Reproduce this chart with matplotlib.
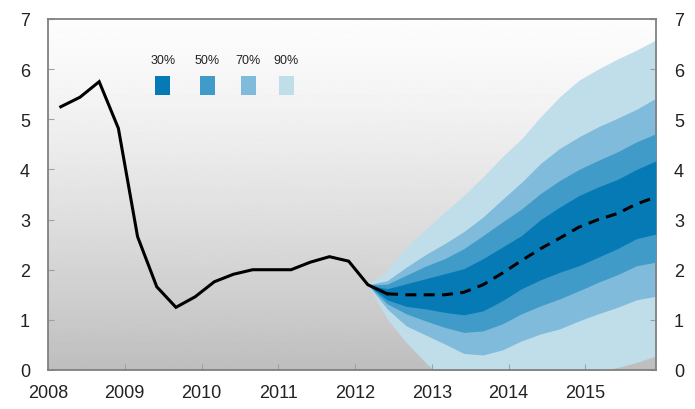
import numpy as np
import matplotlib
matplotlib.use('Agg')
import matplotlib.pyplot as plt
from matplotlib.patches import Rectangle

plt.rcParams['font.family'] = ['Liberation Sans', 'DejaVu Sans']

# 历史数据（季度）
hist_q = ["2008Q1", "2008Q2", "2008Q3", "2008Q4", "2009Q1", "2009Q2", "2009Q3", "2009Q4",
          "2010Q1", "2010Q2", "2010Q3", "2010Q4", "2011Q1", "2011Q2", "2011Q3", "2011Q4",
          "2012Q1", "2012Q2"]
hist_val = [5.25, 5.44, 5.75, 4.82, 2.66, 1.66, 1.25, 1.46,
            1.76, 1.91, 2.00, 2.00, 2.00, 2.15, 2.26, 2.17,
            1.70, 1.52]

# 预测区间（从 2012Q1 开始）
fan_q = ["2012Q1", "2012Q2", "2012Q3", "2012Q4", "2013Q1", "2013Q2", "2013Q3", "2013Q4",
         "2014Q1", "2014Q2", "2014Q3", "2014Q4", "2015Q1", "2015Q2", "2015Q3", "2015Q4"]
median = [1.70, 1.52, 1.50, 1.50, 1.50, 1.55, 1.70, 1.93,
          2.18, 2.42, 2.63, 2.85, 3.00, 3.12, 3.31, 3.45]
lo30 = [1.70, 1.40, 1.27, 1.22, 1.15, 1.10, 1.18, 1.38, 1.62, 1.80, 1.95, 2.08, 2.25, 2.42, 2.62, 2.71]
hi30 = [1.70, 1.62, 1.72, 1.82, 1.92, 2.02, 2.22, 2.45, 2.68, 3.00, 3.25, 3.48, 3.65, 3.80, 4.00, 4.17]
lo50 = [1.70, 1.32, 1.12, 0.98, 0.85, 0.75, 0.78, 0.92, 1.12, 1.28, 1.42, 1.58, 1.75, 1.90, 2.08, 2.15]
hi50 = [1.70, 1.71, 1.89, 2.07, 2.22, 2.42, 2.68, 2.95, 3.21, 3.52, 3.78, 4.00, 4.18, 4.35, 4.55, 4.71]
lo70 = [1.70, 1.22, 0.88, 0.70, 0.52, 0.33, 0.30, 0.40, 0.58, 0.72, 0.82, 0.98, 1.12, 1.25, 1.40, 1.47]
hi70 = [1.70, 1.78, 2.05, 2.30, 2.52, 2.76, 3.05, 3.40, 3.74, 4.12, 4.42, 4.65, 4.85, 5.02, 5.20, 5.42]
lo90 = [1.70, 1.02, 0.55, 0.15, -0.20, -0.40, -0.50, -0.45, -0.35, -0.20, -0.12, -0.08, -0.02, 0.05, 0.15, 0.28]
hi90 = [1.70, 1.98, 2.45, 2.80, 3.15, 3.48, 3.85, 4.25, 4.61, 5.05, 5.45, 5.78, 6.00, 6.20, 6.38, 6.58]

band_labels = ["30%", "50%", "70%", "90%"]
band_colors = ["#067ab5", "#409bc8", "#80bbdb", "#bfdeea"]


def qpos(q):
    # 季度 -> 横坐标（年份小数）
    return int(q[:4]) + (int(q[5]) - 1) / 4 + 1 / 6


hx = np.array([qpos(q) for q in hist_q])
fx = np.array([qpos(q) for q in fan_q])

fig = plt.figure(figsize=(6.95, 4.10), dpi=100)
ax = fig.add_axes([48 / 695, 39 / 410, 608 / 695, 351 / 410])

xmin, xmax = 2008, 2015.92
# 背景渐变：上白下灰
grad = np.linspace(0, 1, 256) ** 1.3
grad = (0.99 - 0.245 * grad)[:, None]
ax.imshow(grad, cmap='gray', vmin=0, vmax=1, extent=[xmin, xmax, 0, 7],
          origin='upper', aspect='auto', zorder=0)

ax.fill_between(fx, lo90, hi90, color=band_colors[3], lw=0, zorder=1)
ax.fill_between(fx, lo70, hi70, color=band_colors[2], lw=0, zorder=2)
ax.fill_between(fx, lo50, hi50, color=band_colors[1], lw=0, zorder=3)
ax.fill_between(fx, lo30, hi30, color=band_colors[0], lw=0, zorder=4)

ax.plot(hx, hist_val, color='black', lw=2.2, zorder=5, solid_joinstyle='miter')
ax.plot(fx[1:], median[1:], color='black', lw=2.2, ls=(0, (3.6, 2.4)), zorder=5)

ax.set_xlim(xmin, xmax)
ax.set_ylim(0, 7)
ax.set_xticks(range(2008, 2016))
ax.set_yticks(range(0, 8))

for s in ax.spines.values():
    s.set_color('#808080')
    s.set_linewidth(1.3)

ax.tick_params(axis='both', direction='in', length=4, color='#a0a0a0', labelsize=13,
               labelcolor='#222222')
ax.tick_params(axis='y', left=True, right=True, labelleft=True, labelright=True, pad=13)
ax.tick_params(axis='x', pad=10)

# 图例：标签在上，色块在下
lx = [162.7, 207, 248, 286]
for lab, col, px in zip(band_labels, band_colors, lx):
    fx0 = (px - 48) / 608
    ax.text(fx0, (371 - 61) / 351, lab, transform=ax.transAxes, ha='center',
            va='center', fontsize=9, color='#222222', zorder=6)
    ax.add_patch(Rectangle((fx0 - 7.5 / 608, (371 - 96) / 351), 15 / 608, 19 / 351,
                           transform=ax.transAxes, color=col, lw=0, zorder=6))

plt.savefig("out.png", dpi=100)
plt.close()
